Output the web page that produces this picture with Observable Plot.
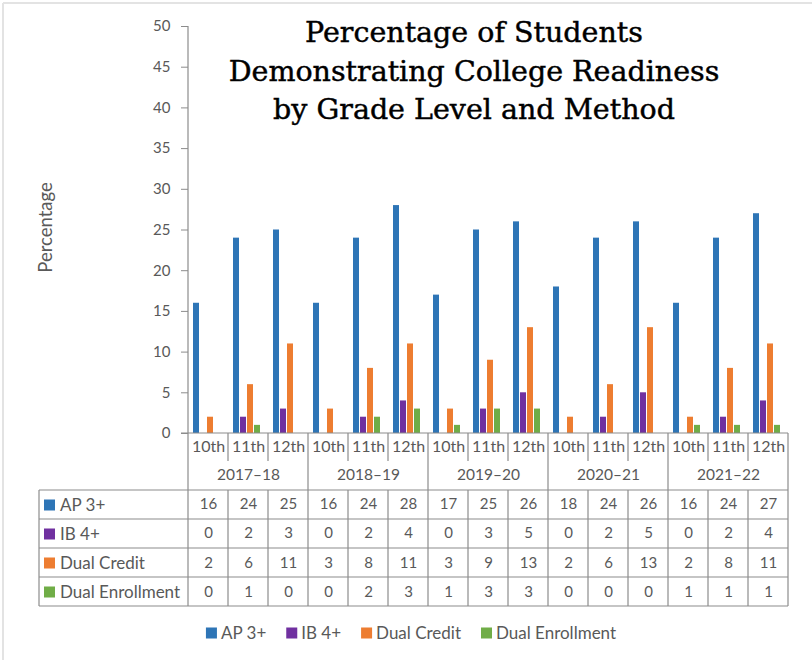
<!DOCTYPE html>
<html>
<head>
<meta charset="utf-8">
<script src="https://cdn.jsdelivr.net/npm/d3@7"></script>
<script src="https://cdn.jsdelivr.net/npm/@observablehq/plot@0.6"></script>
<style>
  html, body { margin: 0; padding: 0; background: #fff; }
  #chart { width: 812px; height: 660px; position: relative; overflow: hidden; }
</style>
</head>
<body>
<div id="chart"></div>
<script>
const years = ["2017–18", "2018–19", "2019–20", "2020–21", "2021–22"];
const grades = ["10th", "11th", "12th"];
const seriesNames = ["AP 3+", "IB 4+", "Dual Credit", "Dual Enrollment"];
const seriesColors = ["#2E75B6", "#7030A0", "#ED7D31", "#70AD47"];
const titleLines = ["Percentage of Students", "Demonstrating College Readiness", "by Grade Level and Method"];
const yLabel = "Percentage";
const yTicks = [0, 5, 10, 15, 20, 25, 30, 35, 40, 45, 50];

// values in order: year-major, grade-minor
const apValues = [16, 24, 25, 16, 24, 28, 17, 25, 26, 18, 24, 26, 16, 24, 27];
const ibValues = [0, 2, 3, 0, 2, 4, 0, 3, 5, 0, 2, 5, 0, 2, 4];
const dcValues = [2, 6, 11, 3, 8, 11, 3, 9, 13, 2, 6, 13, 2, 8, 11];
const deValues = [0, 1, 0, 0, 2, 3, 1, 3, 3, 0, 0, 0, 1, 1, 1];
const seriesValues = [apValues, ibValues, dcValues, deValues];

const cats = [];
years.forEach(y => grades.forEach(g => cats.push({year: y, grade: g, cat: y + " " + g})));
const catKeys = cats.map(c => c.cat);

const data = [];
seriesNames.forEach((s, si) => {
  cats.forEach((c, ci) => data.push({...c, series: s, value: seriesValues[si][ci]}));
});

const textColor = "#595959";
const lineColor = "#8C8C8C";
const font = "Lato, 'Open Sans', sans-serif";

const rowDy = [71, 100, 129.5, 158.5];

const marks = [
  Plot.axisY({ticks: yTicks, tickSize: 7, tickPadding: 11, stroke: lineColor, fill: textColor, label: null}),
  Plot.barY(data, {fx: "cat", x: "series", y: "value", fill: "series"}),
  Plot.text(cats, {fx: "cat", text: "grade", frameAnchor: "bottom", lineAnchor: "middle", dy: 13, fill: textColor, fontSize: 16}),
  Plot.text(cats.filter(c => c.grade === "11th"), {fx: "cat", text: "year", frameAnchor: "bottom", lineAnchor: "middle", dy: 42, fill: textColor, fontSize: 15.5}),
  ...seriesNames.map((s, si) =>
    Plot.text(data.filter(d => d.series === s), {fx: "cat", text: "value", frameAnchor: "bottom", lineAnchor: "middle", dy: rowDy[si], fill: textColor})
  )
];

const chart = Plot.plot({
  width: 812,
  height: 660,
  marginTop: 26,
  marginBottom: 227,
  marginLeft: 187,
  marginRight: 23,
  style: {fontFamily: font, fontSize: "15px", color: textColor, background: "#fff", overflow: "visible"},
  fx: {domain: catKeys, padding: 0, axis: null, label: null},
  x: {domain: seriesNames, axis: null, paddingInner: 0.17, paddingOuter: 0.86, align: 0.41},
  y: {domain: [0, 50], label: null},
  color: {domain: seriesNames, range: seriesColors},
  marks
});

document.getElementById("chart").appendChild(chart);

// table grid and decorations from the library's scales
const svg = d3.select(chart);
const fx = chart.scale("fx");
const ys = chart.scale("y");
const bw = fx.bandwidth;
const x0 = fx.apply(catKeys[0]);
const x1 = fx.apply(catKeys[catKeys.length - 1]) + bw;
const yZero = ys.apply(0);
const yTop = ys.apply(50);
const rowH = 29;
const tableTop = yZero + 57;
const tableLeft = 39;
const g = svg.append("g").attr("stroke", lineColor).attr("stroke-width", 1.2).attr("fill", "none");

// outer frame (top/left only as in reference)
svg.insert("line", ":first-child").attr("x1", 3).attr("x2", 812).attr("y1", 3).attr("y2", 3).attr("stroke", "#E3E3E3").attr("stroke-width", 2);
svg.insert("line", ":first-child").attr("x1", 3).attr("x2", 3).attr("y1", 3).attr("y2", 660).attr("stroke", "#E3E3E3").attr("stroke-width", 2);

// y axis line
g.append("line").attr("x1", x0).attr("x2", x0).attr("y1", yTop).attr("y2", yZero);
// x axis / top of category rows
g.append("line").attr("x1", x0 - 7).attr("x2", x1).attr("y1", yZero).attr("y2", yZero);
// horizontal table lines
for (let r = 0; r <= 4; r++) {
  const yy = tableTop + r * rowH;
  g.append("line").attr("x1", tableLeft).attr("x2", x1).attr("y1", yy).attr("y2", yy);
}
g.append("line").attr("x1", tableLeft).attr("x2", tableLeft).attr("y1", tableTop).attr("y2", tableTop + 4 * rowH);
// vertical lines
catKeys.forEach((k, i) => {
  const xx = fx.apply(k);
  if (i % 3 === 0) {
    g.append("line").attr("x1", xx).attr("x2", xx).attr("y1", yZero).attr("y2", tableTop + 4 * rowH);
  } else {
    g.append("line").attr("x1", xx).attr("x2", xx).attr("y1", yZero).attr("y2", yZero + 28);
    g.append("line").attr("x1", xx).attr("x2", xx).attr("y1", tableTop).attr("y2", tableTop + 4 * rowH);
  }
});
g.append("line").attr("x1", x1).attr("x2", x1).attr("y1", yZero).attr("y2", tableTop + 4 * rowH);

// row labels with color keys
seriesNames.forEach((s, si) => {
  const cy = tableTop + si * rowH + rowH / 2;
  svg.append("rect").attr("x", tableLeft + 5).attr("y", cy - 5).attr("width", 11).attr("height", 11).attr("fill", seriesColors[si]);
  svg.append("text").attr("x", tableLeft + 21).attr("y", cy).attr("dy", "0.36em").attr("text-anchor", "start")
    .attr("fill", textColor).attr("font-family", font).attr("font-size", 17).text(s);
});

// y axis label
svg.append("text").attr("transform", `translate(45,${(yTop + yZero) / 2 - 2}) rotate(-90)`)
  .attr("text-anchor", "middle").attr("dy", "0.36em").attr("fill", textColor)
  .attr("font-family", font).attr("font-size", 18.5).text(yLabel);

// title
const title = svg.append("text").attr("text-anchor", "middle").attr("font-family", "'DejaVu Serif', serif")
  .attr("font-size", 28.5).attr("fill", "#000").attr("stroke", "#000").attr("stroke-width", 0.45);
titleLines.forEach((t, i) => {
  title.append("tspan").attr("x", 474).attr("y", 42 + i * 38.5).text(t);
});

// legend
const legend = svg.append("g");
let cx = 0;
seriesNames.forEach((s, si) => {
  legend.append("rect").attr("x", cx).attr("y", -5.5).attr("width", 11).attr("height", 11).attr("fill", seriesColors[si]);
  const t = legend.append("text").attr("x", cx + 15).attr("y", 0).attr("dy", "0.36em").attr("text-anchor", "start")
    .attr("fill", textColor).attr("font-family", font).attr("font-size", 17).text(s);
  cx += 15 + t.node().getComputedTextLength() + 20;
});
const lw = cx - 20;
legend.attr("transform", `translate(${411 - lw / 2},633)`);
</script>
</body>
</html>
